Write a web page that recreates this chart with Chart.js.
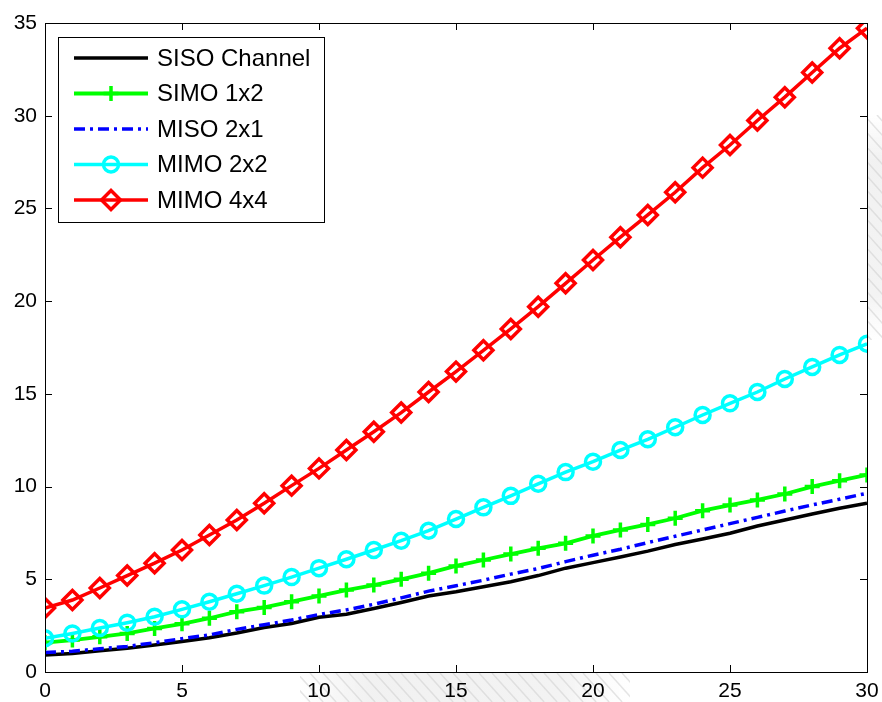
<!DOCTYPE html>
<html>
<head>
    <title>Capacity: SISO / SIMO / MISO / MIMO</title>
    <script src="https://cdn.jsdelivr.net/npm/chart.js"></script>
    <style>
        body {
            margin: 0;
            background-color: #ffffff;
        }
        #wrap {
            width: 882px;
            height: 702px;
        }
    </style>
</head>
<body>
    <div id="wrap"><canvas id="capChart" width="882" height="702"></canvas></div>

    <script>
        // SNR axis (dB)
        const snr = [0, 1, 2, 3, 4, 5, 6, 7, 8, 9, 10, 11, 12, 13, 14, 15,
                     16, 17, 18, 19, 20, 21, 22, 23, 24, 25, 26, 27, 28, 29, 30];

        const xTicks = [0, 5, 10, 15, 20, 25, 30];
        const yTicks = [0, 5, 10, 15, 20, 25, 30, 35];

        const seriesNames = ["SISO Channel", "SIMO 1x2", "MISO 2x1", "MIMO 2x2", "MIMO 4x4"];

        // capacity values (bits/s/Hz)
        const siso = [0.92, 1.0, 1.15, 1.28, 1.46, 1.64, 1.85, 2.1, 2.4, 2.62, 2.95, 3.12, 3.42, 3.75, 4.1,
                      4.33, 4.6, 4.87, 5.2, 5.6, 5.9, 6.2, 6.52, 6.88, 7.17, 7.48, 7.87, 8.2, 8.52, 8.83, 9.1];
        const simo = [1.58, 1.72, 1.9, 2.08, 2.35, 2.6, 2.9, 3.25, 3.48, 3.79, 4.1, 4.42, 4.69, 5.0, 5.33,
                      5.72, 6.04, 6.36, 6.67, 6.94, 7.34, 7.66, 7.96, 8.29, 8.7, 9.0, 9.28, 9.6, 10.0, 10.32, 10.63];
        const miso = [1.05, 1.12, 1.25, 1.38, 1.58, 1.8, 2.0, 2.3, 2.55, 2.8, 3.1, 3.35, 3.65, 4.0, 4.36,
                      4.65, 4.95, 5.28, 5.58, 5.95, 6.3, 6.62, 6.98, 7.32, 7.66, 8.0, 8.34, 8.68, 9.01, 9.32, 9.64];
        const mimo22 = [1.82, 2.08, 2.37, 2.66, 2.98, 3.38, 3.79, 4.22, 4.66, 5.12, 5.6, 6.08, 6.58, 7.08, 7.62,
                        8.25, 8.88, 9.5, 10.15, 10.78, 11.34, 11.97, 12.55, 13.2, 13.86, 14.49, 15.1, 15.8, 16.45, 17.1, 17.7];
        const mimo44 = [3.45, 3.88, 4.53, 5.2, 5.87, 6.58, 7.39, 8.2, 9.1, 10.05, 10.98, 11.97, 12.96, 13.99, 15.1,
                        16.2, 17.35, 18.5, 19.7, 20.96, 22.22, 23.45, 24.65, 25.87, 27.2, 28.42, 29.74, 31.0, 32.33, 33.64, 34.72];

        const FONT = "'Liberation Sans', Arial, sans-serif";

        function toPoints(ys) {
            return snr.map((x, i) => ({ x: x, y: ys[i] }));
        }

        // faint hatched smudge behind the page (bottom strip and right edge)
        function drawHatch(ctx, x0, y0, w, h, vertical) {
            ctx.save();
            ctx.beginPath();
            ctx.rect(x0, y0, w, h);
            ctx.clip();
            const g = vertical ? ctx.createLinearGradient(0, y0, 0, y0 + h)
                               : ctx.createLinearGradient(x0, 0, x0 + w, 0);
            g.addColorStop(0, "rgba(238,238,238,0)");
            g.addColorStop(0.2, "rgba(238,238,238,0.8)");
            g.addColorStop(0.8, "rgba(240,240,240,0.8)");
            g.addColorStop(1, "rgba(245,245,245,0)");
            ctx.fillStyle = g;
            ctx.fillRect(x0, y0, w, h);
            ctx.strokeStyle = "rgba(205,205,205,0.55)";
            ctx.lineWidth = 1.5;
            for (let s = -h; s < w + h; s += 13) {
                ctx.beginPath();
                ctx.moveTo(x0 + s, y0);
                ctx.lineTo(x0 + s + h * 0.9, y0 + h);
                ctx.stroke();
            }
            ctx.restore();
        }

        const frame = {
            id: "frame",
            beforeDraw(chart) {
                const ctx = chart.ctx;
                drawHatch(ctx, 300, 673, 330, 29, false);
                drawHatch(ctx, 868, 115, 14, 225, true);
            },
            afterDatasetsDraw(chart) {
                const ctx = chart.ctx;
                const a = chart.chartArea;
                const xs = chart.scales.x, ys = chart.scales.y;
                ctx.save();
                ctx.strokeStyle = "#000";
                ctx.lineWidth = 1;
                ctx.strokeRect(Math.round(a.left) + 0.5, Math.round(a.top) + 0.5,
                               Math.round(a.right - a.left), Math.round(a.bottom - a.top));
                const tl = 7;
                ctx.beginPath();
                xTicks.forEach(v => {
                    const px = Math.round(xs.getPixelForValue(v)) + 0.5;
                    ctx.moveTo(px, a.bottom); ctx.lineTo(px, a.bottom - tl);
                    ctx.moveTo(px, a.top); ctx.lineTo(px, a.top + tl);
                });
                yTicks.forEach(v => {
                    const py = Math.round(ys.getPixelForValue(v)) + 0.5;
                    ctx.moveTo(a.left, py); ctx.lineTo(a.left + tl, py);
                    ctx.moveTo(a.right, py); ctx.lineTo(a.right - tl, py);
                });
                ctx.stroke();
                ctx.restore();
            },
            afterDraw(chart) {
                // legend box, line sample with marker in the middle
                const ctx = chart.ctx;
                ctx.save();
                ctx.fillStyle = "#fff";
                ctx.fillRect(58, 37, 266, 185);
                ctx.strokeStyle = "#000";
                ctx.lineWidth = 1;
                ctx.strokeRect(58.5, 37.5, 266, 185);
                chart.data.datasets.forEach((ds, i) => {
                    const y = 58 + i * 35.5;
                    ctx.save();
                    ctx.strokeStyle = ds.borderColor;
                    ctx.lineWidth = ds.borderWidth;
                    ctx.setLineDash(ds.borderDash || []);
                    ctx.beginPath();
                    ctx.moveTo(74, y);
                    ctx.lineTo(148, y);
                    ctx.stroke();
                    ctx.restore();
                    if (ds.pointStyle && ds.pointRadius > 0) {
                        ctx.save();
                        ctx.fillStyle = "rgba(0,0,0,0)";
                        ctx.strokeStyle = ds.borderColor;
                        ctx.lineWidth = ds.pointBorderWidth;
                        Chart.helpers.drawPoint(ctx, {
                            pointStyle: ds.pointStyle,
                            radius: ds.pointRadius,
                            rotation: 0,
                            borderWidth: ds.pointBorderWidth
                        }, 111, y);
                        ctx.restore();
                    }
                    ctx.fillStyle = "#000";
                    ctx.font = "24px " + FONT;
                    ctx.textBaseline = "middle";
                    ctx.fillText(ds.label, 157, y + 1);
                });
                ctx.restore();
            }
        };

        function lineSet(label, ys, color, extra) {
            return Object.assign({
                label: label,
                data: toPoints(ys),
                borderColor: color,
                backgroundColor: color,
                borderWidth: 3.5,
                pointRadius: 0,
                pointHoverRadius: 0,
                pointBorderColor: color,
                pointBackgroundColor: "rgba(0,0,0,0)",
                pointBorderWidth: 3,
                tension: 0,
                fill: false,
                clip: 0
            }, extra || {});
        }

        new Chart(document.getElementById("capChart").getContext("2d"), {
            type: "line",
            data: {
                datasets: [
                    lineSet(seriesNames[0], siso, "#000000", { order: 5 }),
                    lineSet(seriesNames[1], simo, "#00ff00", { order: 4, borderWidth: 3.8, pointStyle: "cross", pointRadius: 7.5, pointBorderWidth: 3.5 }),
                    lineSet(seriesNames[2], miso, "#0000ff", { order: 3, borderDash: [11, 5, 3, 5] }),
                    lineSet(seriesNames[3], mimo22, "#00ffff", { order: 2, pointStyle: "circle", pointRadius: 7.5, pointBorderWidth: 3.5 }),
                    lineSet(seriesNames[4], mimo44, "#ff0000", { order: 1, pointStyle: "rectRot", pointRadius: 9.5, pointBorderWidth: 3.5 })
                ]
            },
            options: {
                responsive: false,
                animation: false,
                events: [],
                layout: { padding: { top: 23, right: 15, left: 0, bottom: 0 } },
                plugins: {
                    legend: { display: false },
                    tooltip: { enabled: false }
                },
                scales: {
                    x: {
                        type: "linear",
                        min: 0,
                        max: 30,
                        grid: { display: false, drawTicks: false },
                        border: { display: false },
                        afterBuildTicks: s => { s.ticks = xTicks.map(v => ({ value: v })); },
                        afterFit: s => { s.height = 30; s.paddingLeft = 0; s.paddingRight = 0; },
                        ticks: { color: "#000", padding: 7, maxRotation: 0, font: { family: FONT, size: 21 } }
                    },
                    y: {
                        min: 0,
                        max: 35,
                        grid: { display: false, drawTicks: false },
                        border: { display: false },
                        afterBuildTicks: s => { s.ticks = yTicks.map(v => ({ value: v })); },
                        afterFit: s => { s.width = 45; s.paddingTop = 0; s.paddingBottom = 0; },
                        ticks: { color: "#000", padding: 8, font: { family: FONT, size: 21 } }
                    }
                }
            },
            plugins: [frame]
        });
    </script>
</body>
</html>
